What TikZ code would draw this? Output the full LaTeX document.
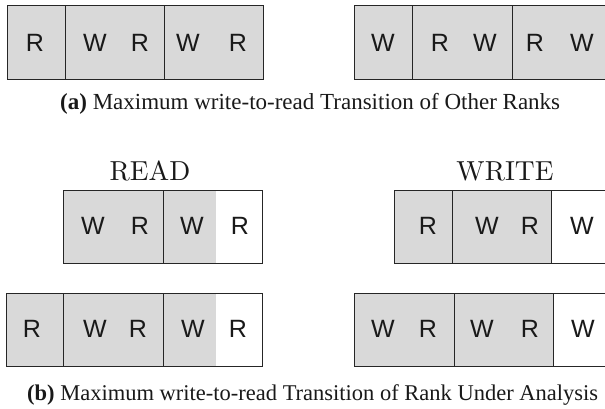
\documentclass[tikz,border=0pt]{standalone}
\usepackage{fontspec}
\setmainfont{Liberation Serif}
\newfontfamily\boxfont{Liberation Sans}
\newfontfamily\lmfont{lmroman10-regular.otf}
\tikzset{
  cellbox/.style={draw=black!85, line width=0.9pt, fill=black!15},
  whitebox/.style={draw=black!85, line width=0.9pt, fill=white},
  letter/.style={inner sep=0pt, font=\boxfont\fontsize{25}{25}\selectfont, text=black!90},
  toplabel/.style={inner sep=0pt, font=\lmfont\fontsize{27.5}{27.5}\selectfont, text=black!90},
  captext/.style={inner sep=0pt, anchor=base west, font=\fontsize{23}{23}\selectfont, text=black!90}
}
\begin{document}
\begin{tikzpicture}[x=1pt,y=-1pt]
\useasboundingbox (0,0) rectangle (605,408);
\clip (0,0) rectangle (605,408);
% ---- Row 1 left
\draw[cellbox] (7,5) rectangle (65,79);
\draw[cellbox] (65,5) rectangle (164,79);
\draw[cellbox] (164,5) rectangle (263,79);
\node[letter] (a1) at (35,43) {R};
\node[letter] (a2) at (95,43) {W};
\node[letter] (a3) at (140,43) {R};
\node[letter] (a4) at (188,43) {W};
\node[letter] (a5) at (238,43) {R};
% ---- Row 1 right
\draw[cellbox] (354,5) rectangle (412,79);
\draw[cellbox] (412,5) rectangle (512,79);
\draw[cellbox] (512,5) rectangle (612,79);
\node[letter] (b1) at (383,43) {W};
\node[letter] (b2) at (440,43) {R};
\node[letter] (b3) at (485,43) {W};
\node[letter] (b4) at (535,43) {R};
\node[letter] (b5) at (582,43) {W};
% ---- caption a
\node[captext] (capa) at (60,109) {\textbf{(a)} Maximum write-to-read Transition of Other Ranks};
% ---- Row 2 left (READ)
\node[toplabel] (read) at (150,171) {READ};
\draw[cellbox] (63,190) rectangle (163,263);
\fill[black!15] (163,190) rectangle (216,263);
\fill[white] (216,190) rectangle (262,263);
\draw[draw=black!85, line width=0.9pt] (163,190) rectangle (262,263);
\node[letter] (c1) at (93,226) {W};
\node[letter] (c2) at (140,226) {R};
\node[letter] (c3) at (192,226) {W};
\node[letter] (c4) at (240,226) {R};
% ---- Row 2 right (WRITE)
\node[toplabel] (write) at (505,171) {WRITE};
\draw[cellbox] (394,190) rectangle (452,263);
\draw[cellbox] (452,190) rectangle (551,263);
\draw[whitebox] (551,190) rectangle (612,263);
\node[letter] (d1) at (428,226) {R};
\node[letter] (d2) at (487,226) {W};
\node[letter] (d3) at (530,226) {R};
\node[letter] (d4) at (582,226) {W};
% ---- Row 3 left
\draw[cellbox] (6,293) rectangle (63,366);
\draw[cellbox] (63,293) rectangle (163,366);
\fill[black!15] (163,293) rectangle (216,366);
\fill[white] (216,293) rectangle (262,366);
\draw[draw=black!85, line width=0.9pt] (163,293) rectangle (262,366);
\node[letter] (e1) at (32,329) {R};
\node[letter] (e2) at (95,329) {W};
\node[letter] (e3) at (138,329) {R};
\node[letter] (e4) at (193,329) {W};
\node[letter] (e5) at (238,329) {R};
% ---- Row 3 right
\draw[cellbox] (354,293) rectangle (454,366);
\draw[cellbox] (454,293) rectangle (553,366);
\draw[whitebox] (553,293) rectangle (612,366);
\node[letter] (f1) at (383,329) {W};
\node[letter] (f2) at (428,329) {R};
\node[letter] (f3) at (482,329) {W};
\node[letter] (f4) at (530,329) {R};
\node[letter] (f5) at (583,329) {W};
% ---- caption b
\node[captext, font=\fontsize{22.5}{22.5}\selectfont] (capb) at (27,400) {\textbf{(b)} Maximum write-to-read Transition of Rank Under Analysis};
\end{tikzpicture}
\end{document}
